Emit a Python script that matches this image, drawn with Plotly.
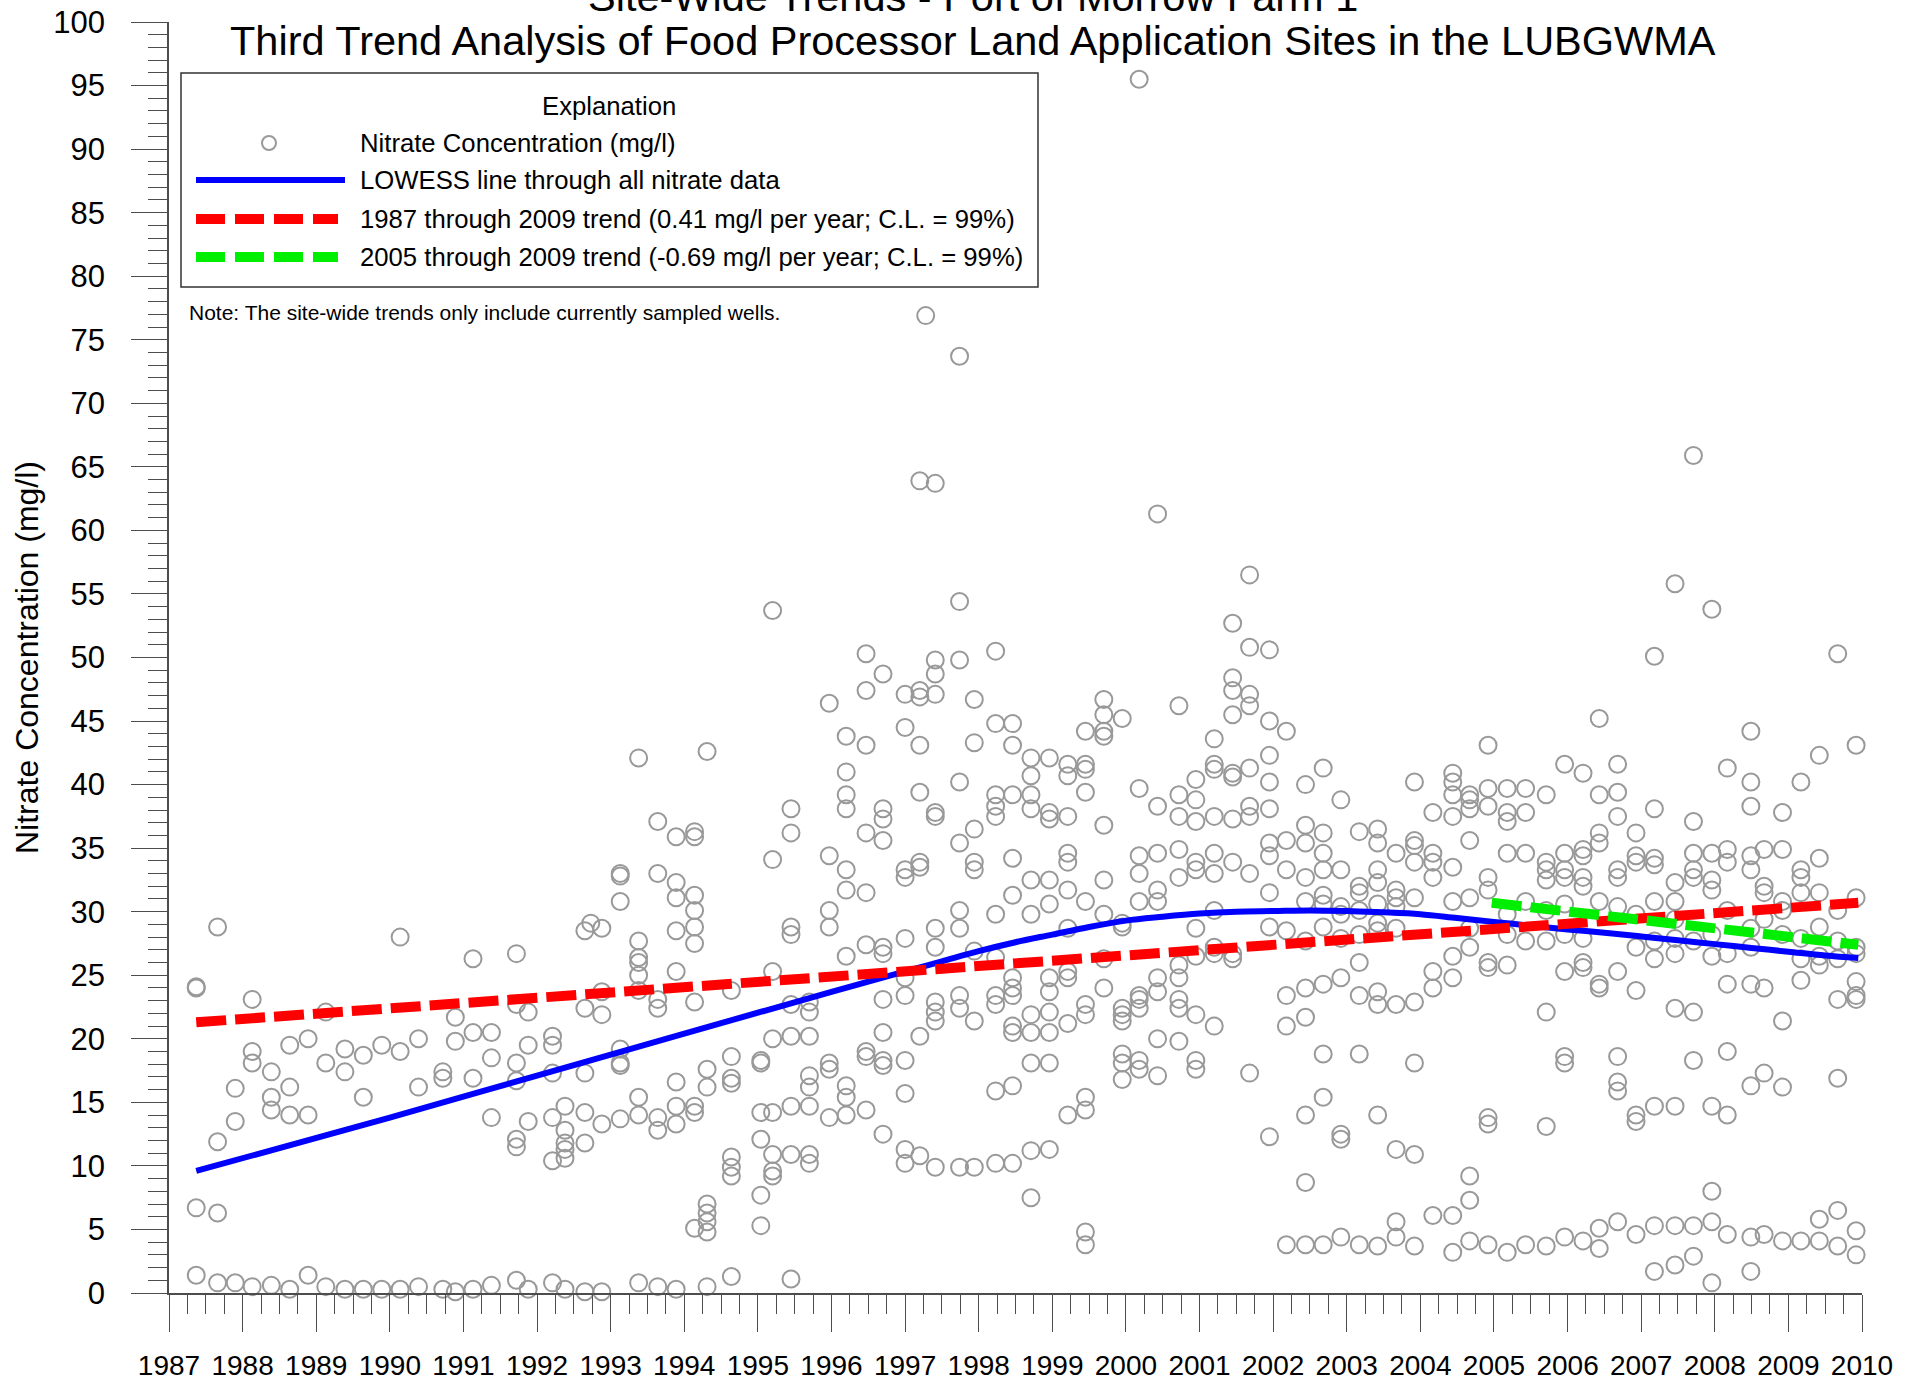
import plotly.graph_objects as go

# ---------------- data ----------------
sample_dates = [
    1987.37, 1987.66, 1987.90, 1988.13, 1988.39, 1988.64, 1988.89, 1989.13, 1989.39, 1989.64,
    1989.89, 1990.14, 1990.39, 1990.72, 1990.89, 1991.13, 1991.38, 1991.72, 1991.88, 1992.21,
    1992.38, 1992.65, 1992.73, 1992.88, 1993.13, 1993.38, 1993.64, 1993.89, 1994.14, 1994.31,
    1994.64, 1995.04, 1995.20, 1995.45, 1995.70, 1995.97, 1996.20, 1996.47, 1996.70, 1997.00,
    1997.20, 1997.28, 1997.41, 1997.74, 1997.94, 1998.23, 1998.46, 1998.71, 1998.96, 1999.21,
    1999.45, 1999.70, 1999.95, 2000.18, 2000.43, 2000.72, 2000.95, 2001.20, 2001.45, 2001.68,
    2001.95, 2002.18, 2002.44, 2002.68, 2002.92, 2003.17, 2003.42, 2003.67, 2003.92, 2004.17,
    2004.44, 2004.67, 2004.92, 2005.18, 2005.43, 2005.71, 2005.96, 2006.21, 2006.43, 2006.68,
    2006.93, 2007.18, 2007.46, 2007.71, 2007.96, 2008.17, 2008.49, 2008.67, 2008.92, 2009.17,
    2009.42, 2009.67, 2009.92,
]

nitrate_by_date = [
    [24.0, 24.1, 6.7, 1.4],
    [28.8, 11.9, 6.3, 0.8],
    [16.1, 13.5, 0.8],
    [23.1, 19.0, 18.1, 0.5],
    [17.4, 15.4, 14.4, 0.6],
    [19.5, 16.2, 14.0, 0.3],
    [20.0, 14.0, 1.4],
    [22.1, 18.1, 0.5],
    [19.2, 17.4, 0.3],
    [18.7, 15.4, 0.3],
    [19.5, 0.3],
    [28.0, 19.0, 0.3],
    [20.0, 16.2, 0.5],
    [17.4, 16.9, 0.3],
    [21.7, 19.8, 0.1],
    [26.3, 20.5, 16.9, 0.3],
    [20.5, 18.5, 13.8, 0.6],
    [26.7, 22.7, 18.1, 16.7, 12.1, 11.5, 1.0],
    [22.1, 19.5, 13.5, 0.3],
    [20.2, 19.5, 17.3, 13.8, 10.4, 0.8],
    [14.7, 12.8, 11.8, 11.3, 10.6, 0.3],
    [28.5, 22.4, 17.3, 14.2, 11.8, 0.1],
    [29.1],
    [28.7, 23.7, 21.9, 13.3, 0.1],
    [32.8, 33.0, 30.8, 19.2, 18.1, 17.9, 13.7],
    [42.1, 27.7, 26.4, 26.0, 25.0, 23.8, 15.4, 14.0, 0.8],
    [37.1, 33.0, 23.1, 22.4, 13.8, 12.8, 0.5],
    [35.9, 32.3, 31.1, 28.5, 25.3, 16.6, 14.7, 13.3, 0.3],
    [36.3, 35.9, 31.3, 30.1, 28.8, 27.5, 22.9, 14.7, 14.2, 5.1],
    [42.6, 17.6, 16.2, 7.0, 6.3, 5.6, 4.8, 0.5],
    [23.8, 18.6, 16.9, 16.5, 10.7, 9.9, 9.2, 1.3],
    [18.3, 18.1, 14.2, 12.1, 7.7, 5.3],
    [53.7, 34.1, 25.3, 20.0, 14.2, 10.9, 9.6, 9.2],
    [38.1, 36.2, 28.8, 28.2, 22.7, 20.2, 14.7, 10.9, 1.1],
    [22.9, 22.1, 20.2, 17.1, 16.2, 14.7, 10.9, 10.2],
    [46.4, 34.4, 30.1, 28.8, 18.1, 17.6, 13.8],
    [43.8, 41.0, 39.2, 38.1, 33.3, 31.7, 26.5, 16.3, 15.4, 14.0],
    [50.3, 47.4, 43.1, 36.2, 31.5, 27.4, 19.0, 18.6, 14.4],
    [48.7, 38.1, 37.3, 35.6, 27.2, 26.7, 23.1, 20.5, 18.3, 17.9, 12.5],
    [47.1, 44.5, 33.3, 32.7, 27.9, 24.8, 23.4, 18.3, 15.7, 11.3, 10.2],
    [63.9, 47.4, 46.9, 43.1, 39.4, 33.9, 33.5, 20.2, 10.8],
    [76.9],
    [63.7, 49.8, 48.7, 47.1, 37.8, 37.5, 28.7, 27.2, 22.9, 22.1, 21.4, 9.9],
    [73.7, 54.4, 49.8, 40.2, 35.4, 30.1, 28.7, 23.4, 22.4, 9.9],
    [46.7, 43.3, 36.5, 33.9, 33.3, 26.9, 21.4, 9.9],
    [50.5, 44.8, 39.2, 38.3, 37.5, 29.8, 26.4, 23.4, 22.7, 15.9, 10.2],
    [44.8, 43.1, 39.2, 34.2, 31.3, 24.8, 24.0, 23.4, 21.0, 20.5, 16.3, 10.2],
    [42.1, 40.7, 39.2, 38.1, 32.5, 29.8, 21.9, 20.5, 18.1, 11.2, 7.5],
    [42.1, 37.8, 37.3, 32.5, 30.6, 24.8, 23.7, 22.1, 20.5, 18.1, 11.3],
    [41.6, 40.7, 37.5, 34.6, 33.9, 31.7, 28.7, 25.3, 24.8, 21.2, 14.0],
    [44.2, 41.6, 41.2, 39.4, 30.8, 22.7, 21.9, 15.4, 14.4, 4.8, 3.8],
    [46.7, 45.5, 44.2, 43.8, 36.8, 32.5, 29.8, 26.3, 24.0],
    [45.2, 29.1, 28.8, 22.4, 21.9, 21.4, 18.8, 18.1, 16.8],
    [95.5, 39.7, 34.4, 33.0, 30.8, 23.4, 23.1, 22.4, 18.3, 17.6],
    [61.3, 38.3, 34.6, 31.7, 30.8, 24.8, 23.7, 20.0, 17.1],
    [46.2, 39.2, 37.5, 34.9, 32.7, 25.8, 24.8, 23.1, 22.4, 19.8],
    [40.4, 38.8, 37.1, 33.9, 33.3, 28.7, 26.5, 21.9, 18.3, 17.6],
    [43.6, 41.6, 41.2, 37.5, 34.6, 33.0, 30.1, 27.2, 26.7, 21.0],
    [52.7, 48.4, 47.4, 45.5, 40.9, 40.6, 37.3, 33.9, 26.7, 26.3],
    [56.5, 50.8, 47.1, 46.2, 41.3, 38.3, 37.5, 33.0, 17.3],
    [50.6, 45.0, 42.3, 40.2, 38.1, 35.4, 34.4, 31.5, 28.8, 12.3],
    [44.2, 35.6, 33.3, 28.5, 23.4, 21.0, 3.8],
    [40.0, 36.8, 35.4, 32.7, 30.8, 27.7, 24.0, 21.7, 14.0, 8.7, 3.8],
    [41.3, 36.2, 34.6, 33.3, 31.3, 30.6, 28.8, 24.3, 18.8, 15.4, 3.8],
    [38.8, 33.3, 30.4, 29.8, 27.9, 24.8, 12.5, 12.1, 4.4],
    [36.3, 32.0, 31.5, 30.1, 28.2, 26.0, 23.4, 18.8, 3.8],
    [36.5, 35.4, 33.3, 32.3, 30.6, 29.1, 28.5, 23.7, 22.7, 14.0, 3.7],
    [34.6, 31.7, 31.1, 30.4, 28.7, 22.7, 11.3, 5.6, 4.4],
    [40.2, 35.6, 35.2, 33.9, 31.1, 22.9, 18.1, 10.9, 3.7],
    [37.8, 34.6, 33.9, 32.7, 25.3, 24.0, 6.1],
    [40.9, 40.2, 39.2, 37.5, 33.5, 30.8, 26.5, 24.8, 6.1, 3.2],
    [39.2, 38.8, 38.1, 35.6, 31.1, 28.7, 27.2, 9.2, 7.3, 4.1],
    [43.1, 39.7, 38.3, 32.7, 31.7, 26.0, 25.6, 13.8, 13.3, 3.8],
    [39.7, 37.8, 37.1, 34.6, 29.8, 28.2, 25.8, 3.2],
    [39.7, 37.8, 34.6, 30.8, 27.7, 3.8],
    [39.2, 33.9, 33.3, 32.5, 30.1, 27.7, 22.1, 13.1, 3.7],
    [41.6, 34.6, 33.3, 32.7, 30.6, 28.2, 25.3, 18.6, 18.1, 4.4],
    [40.9, 34.9, 34.4, 32.7, 32.0, 27.9, 26.0, 25.6, 4.1],
    [45.2, 39.2, 36.2, 35.4, 30.8, 24.3, 24.0, 5.1, 3.5],
    [41.6, 39.4, 37.5, 33.3, 32.7, 30.4, 25.3, 18.6, 16.6, 15.9, 5.6],
    [36.2, 34.4, 33.9, 29.8, 27.2, 23.8, 14.0, 13.5, 4.6],
    [50.1, 38.1, 34.2, 33.7, 30.8, 27.7, 26.3, 14.7, 5.3, 1.7],
    [55.8, 32.3, 30.8, 29.4, 27.9, 26.7, 22.4, 14.7, 5.3, 2.2],
    [65.9, 37.1, 34.6, 33.3, 32.7, 27.7, 22.1, 18.3, 5.3, 2.9],
    [53.8, 34.6, 32.5, 31.7, 28.2, 26.5, 14.7, 8.0, 5.6, 0.8],
    [41.3, 34.9, 33.9, 30.1, 26.7, 24.3, 19.0, 14.0, 4.6],
    [44.2, 40.2, 38.3, 34.4, 33.3, 28.7, 27.2, 24.3, 16.3, 4.4, 1.7],
    [34.9, 32.0, 31.5, 29.4, 24.0, 17.3, 4.6],
    [37.8, 34.9, 30.8, 30.1, 28.2, 21.4, 16.2, 4.1],
    [40.2, 33.3, 32.7, 31.5, 27.9, 26.3, 24.6, 4.1],
    [42.3, 34.2, 31.5, 28.8, 26.5, 25.8, 5.8, 4.1],
    [50.3, 30.1, 27.7, 26.3, 23.1, 16.9, 6.5, 3.7],
    [43.1, 31.1, 27.2, 26.7, 24.5, 23.4, 23.1, 4.9, 3.0],
]

lowess_years = [1987.37, 1990.0, 1992.0, 1994.0, 1996.0, 1997.0, 1997.5, 1998.0, 1998.5, 1999.0,
                1999.5, 2000.0, 2000.5, 2001.0, 2001.5, 2002.0, 2002.5, 2003.0, 2003.5, 2004.0,
                2004.5, 2005.0, 2005.5, 2006.0, 2006.5, 2007.0, 2007.5, 2008.0, 2008.5, 2009.0,
                2009.5, 2009.95]
lowess_values = [9.6, 13.8, 17.1, 20.4, 23.7, 25.3, 26.1, 26.9, 27.6, 28.2,
                 28.8, 29.3, 29.6, 29.85, 30.0, 30.05, 30.1, 30.05, 29.95, 29.8,
                 29.5, 29.2, 28.9, 28.6, 28.35, 28.05, 27.75, 27.45, 27.15, 26.85,
                 26.55, 26.35]

trend_all_years = [1987.37, 2009.95]
trend_all_values = [21.3, 30.7]
trend_recent_years = [2004.97, 2009.95]
trend_recent_values = [30.7, 27.4]

title_line1 = "Site-Wide Trends - Port of Morrow Farm 1"
title_line2 = "Third Trend Analysis of Food Processor Land Application Sites in the LUBGWMA"
y_title = "Nitrate Concentration (mg/l)"
legend_title = "Explanation"
legend_labels = [
    "Nitrate Concentration (mg/l)",
    "LOWESS line through all nitrate data",
    "1987 through 2009 trend (0.41 mg/l per year; C.L. = 99%)",
    "2005 through 2009 trend (-0.69 mg/l per year; C.L. = 99%)",
]
note_text = "Note: The site-wide trends only include currently sampled wells."
year_ticks = list(range(1987, 2011))

# ---------------- layout geometry ----------------
W, H = 1917, 1383
ML, MR, MT, MB = 169, 55, 22, 90
PW, PH = W - ML - MR, H - MT - MB
FONT = "Arial, Liberation Sans, sans-serif"
GRAY = "#999999"
AX = "#4d4d4d"


def px(x):
    return (x - ML) / PW


def py(y):
    return (H - MB - y) / PH


xs, ys = [], []
for d, vals in zip(sample_dates, nitrate_by_date):
    for v in vals:
        xs.append(d)
        ys.append(v)

fig = go.Figure()
fig.add_trace(go.Scatter(
    x=xs, y=ys, mode="markers", cliponaxis=False,
    marker=dict(symbol="circle-open", size=17, color=GRAY, line=dict(width=2, color=GRAY)),
))
fig.add_trace(go.Scatter(x=lowess_years, y=lowess_values, mode="lines",
                         line=dict(color="#0000ff", width=6), line_shape="spline"))
fig.add_trace(go.Scatter(x=trend_all_years, y=trend_all_values, mode="lines",
                         line=dict(color="#ff0000", width=10, dash="30px,9px")))
fig.add_trace(go.Scatter(x=trend_recent_years, y=trend_recent_values, mode="lines",
                         line=dict(color="#00ee00", width=10, dash="30px,9px")))

shapes = []
# legend box
shapes.append(dict(type="rect", xref="paper", yref="paper", x0=px(181), x1=px(1038),
                   y0=py(287), y1=py(73), line=dict(color="#333333", width=1.5),
                   fillcolor="white", layer="above"))
shapes.append(dict(type="circle", xref="paper", yref="paper", xsizemode="pixel", ysizemode="pixel",
                   xanchor=px(269), yanchor=py(143), x0=-7, x1=7, y0=-7, y1=7,
                   line=dict(color=GRAY, width=2), layer="above"))
shapes.append(dict(type="line", xref="paper", yref="paper", x0=px(196), x1=px(345),
                   y0=py(180), y1=py(180), line=dict(color="#0000ff", width=6), layer="above"))
shapes.append(dict(type="line", xref="paper", yref="paper", x0=px(196), x1=px(338),
                   y0=py(219), y1=py(219), line=dict(color="#ff0000", width=10, dash="29px,10px"),
                   layer="above"))
shapes.append(dict(type="line", xref="paper", yref="paper", x0=px(196), x1=px(338),
                   y0=py(257), y1=py(257), line=dict(color="#00ee00", width=10, dash="29px,10px"),
                   layer="above"))

ann = []
ann.append(dict(text=title_line1, x=px(973), y=py(-3), xref="paper", yref="paper",
                xanchor="center", yanchor="middle", showarrow=False,
                font=dict(family=FONT, size=41.5, color="black")))
ann.append(dict(text=title_line2, x=px(973), y=py(41), xref="paper", yref="paper",
                xanchor="center", yanchor="middle", showarrow=False,
                font=dict(family=FONT, size=41.5, color="black")))
ann.append(dict(text=y_title, x=px(27), y=py(658), xref="paper", yref="paper", textangle=-90,
                xanchor="center", yanchor="middle", showarrow=False,
                font=dict(family=FONT, size=32, color="black")))
ann.append(dict(text=legend_title, x=px(609), y=py(106), xref="paper", yref="paper",
                xanchor="center", yanchor="middle", showarrow=False,
                font=dict(family=FONT, size=25.7, color="black")))
for lbl, yy in zip(legend_labels, [143, 180, 219, 257]):
    ann.append(dict(text=lbl, x=px(358), y=py(yy), xref="paper", yref="paper",
                    xanchor="left", yanchor="middle", showarrow=False,
                    font=dict(family=FONT, size=25.7, color="black")))
ann.append(dict(text=note_text, x=px(187), y=py(312), xref="paper", yref="paper",
                xanchor="left", yanchor="middle", showarrow=False,
                font=dict(family=FONT, size=21, color="black")))

fig.update_layout(
    width=W, height=H, margin=dict(l=ML, r=MR, t=MT, b=MB, pad=0, autoexpand=False),
    paper_bgcolor="white", plot_bgcolor="white", showlegend=False,
    shapes=shapes, annotations=ann, font=dict(family=FONT, color="black"),
    xaxis=dict(range=[1987, 2010], tickmode="array", tickvals=year_ticks,
               ticktext=[str(t) for t in year_ticks], automargin=False,
               showline=True, linecolor=AX, linewidth=1.5, showgrid=False, zeroline=False,
               ticks="outside", ticklen=37, tickwidth=1, tickcolor=AX,
               tickfont=dict(family=FONT, size=28, color="black"), ticklabelstandoff=10,
               minor=dict(tickvals=[y + q for y in range(1987, 2010) for q in (0.25, 0.5, 0.75)],
                          ticks="outside", ticklen=19, tickwidth=1, tickcolor=AX, showgrid=False)),
    yaxis=dict(range=[0, 100], dtick=5, tick0=0, automargin=False,
               showline=True, linecolor=AX, linewidth=1.5, showgrid=False, zeroline=False,
               ticks="outside", ticklen=36, tickwidth=1, tickcolor=AX,
               tickfont=dict(family=FONT, size=31, color="black"), ticklabelstandoff=20,
               minor=dict(dtick=1, ticks="outside", ticklen=19, tickwidth=1, tickcolor=AX,
                          showgrid=False)),
)

fig.write_html("out.html", config={"displayModeBar": False},
               post_script="document.body.style.margin='0';")
